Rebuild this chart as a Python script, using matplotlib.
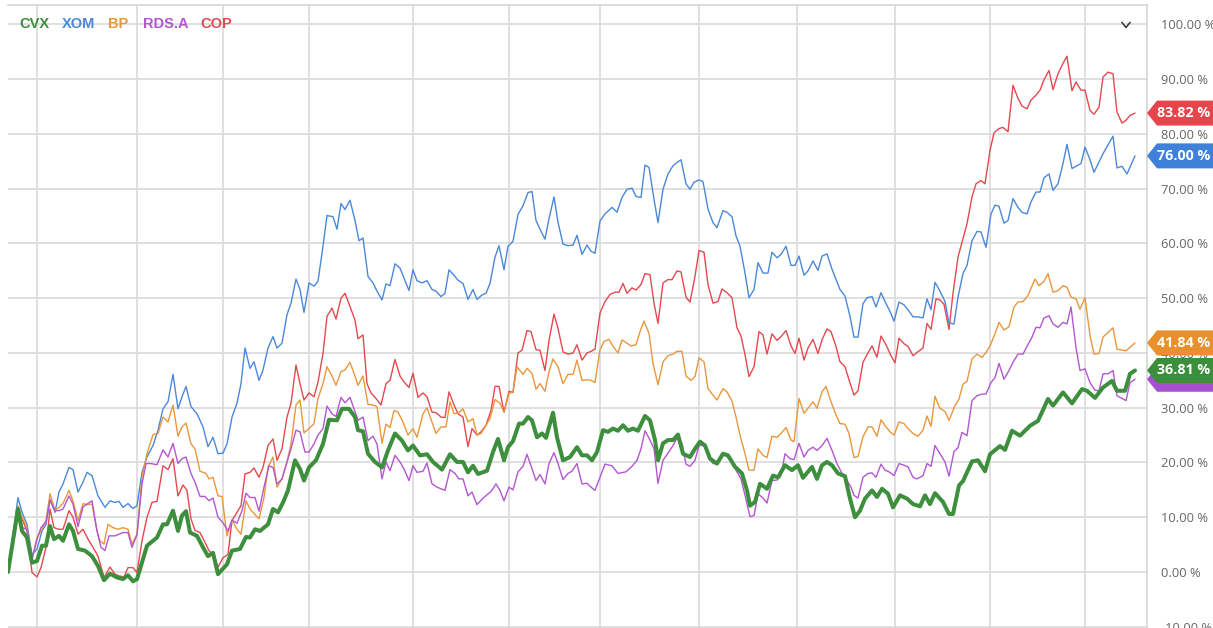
import matplotlib
matplotlib.use("Agg")
import matplotlib.pyplot as plt
from matplotlib.lines import Line2D
from matplotlib.patches import Polygon
import matplotlib.transforms as mtransforms

# ---- data: (trading session, % change) ----
CVX = [(0,0),(2,11.5),(2.8,7.5),(3.8,6.3),(4.8,1.7),(5.8,2),(6.8,4.8),(7.6,4.8),(8.4,8.4),(9.2,6),(10.2,6.6),(11,5.7),(12.2,8.7),(13,7.5),(14,4.2),(15.4,3.9),(16.8,2.9),(18,1.1),(19.2,-1.5),(20.4,-0.3),(21.8,-1),(23,-1.3),(24,-0.6),(25,-1.7),(25.8,-1.3),(27.8,4.8),(29.8,6.3),(31,8.7),(31.8,8.7),(33,11.2),(34,7.5),(34.8,10.3),(35.6,11.1),(36.4,7.2),(37.8,6.6),(39,4.5),(40,2.9),(41,3.5),(42,-0.4),(43.8,1.4),(44.8,3.9),(46.4,4.2),(47.6,6.4),(48.4,6.3),(49.4,7.8),(50.4,7.5),(52,8.7),(53,11.5),(54,10.9),(55,12.7),(56,14.9),(57.4,20.4),(58.4,18.8),(59.2,16.7),(60.2,19.1),(61.6,20.4),(63,23.4),(64.2,27.8),(65.8,27.7),(66.8,29.8),(68.2,29.8),(69.4,28.3),(70,25.9),(71,25.7),(72,21.6),(73.4,20.1),(74.8,19.1),(76,22.2),(77.4,25.3),(78.8,24),(80,22.2),(81,23.1),(82.4,21.3),(83.8,21.5),(85,20.1),(86.8,18.7),(88.4,21.5),(89.8,20.1),(91,20.1),(92,18.2),(93,19.4),(94,17.9),(95.8,18.5),(97,21.9),(98,24.3),(99.2,20.4),(100,22.8),(101,23.9),(102.2,27.1),(103,27.1),(104,28.3),(104.8,27.7),(105.8,24.6),(106.8,25.3),(107.6,24.5),(109,29.1),(109.8,24.6),(111,20.4),(112.4,21),(113.8,22.8),(114.8,21.3),(115.8,21.3),(116.8,20.4),(117.8,21.9),(119,25.9),(120,25.6),(121,26.2),(122,25.8),(123,26.8),(124,25.8),(125,26.2),(126,25.8),(127.4,28.5),(128.4,27.7),(129.4,24.1),(130,20.4),(131,23.5),(132,24.1),(133,24.1),(134,25.1),(135,21.6),(136.4,21),(137.4,22.5),(138.4,23.8),(139.4,23.1),(140.4,20.7),(141.8,19.8),(143,21.6),(144,21.3),(145.4,19.2),(146.8,18),(147.8,14.9),(148.4,12.1),(149.4,12.8),(150.4,16.1),(151.8,15.2),(153,17.6),(154,17.3),(155.4,19.5),(156.8,18.6),(158,19.5),(159,17.2),(160.8,19.2),(161.8,17),(162.8,19.5),(163.8,20.1),(164.8,19.5),(166,18),(167.4,17.5),(168.4,13.4),(169.4,10),(170.4,11.2),(171.4,13.4),(172.8,14.9),(173.8,13.7),(174.8,15.2),(176,14.3),(177,11.8),(178.4,14),(179.8,13.4),(181,12.4),(182.4,12),(183.4,14),(184.4,12.4),(185.4,14.4),(187,12.8),(188.2,10.6),(189,10.6),(190.2,15.8),(191,16.6),(192.8,20.2),(194,20.4),(195.4,18.4),(196.4,21.5),(198.4,23),(199.4,22.3),(200.8,25.8),(202.4,24.9),(204.4,26.7),(206,27.6),(208,31.6),(209,30.4),(211,32.8),(212.8,30.8),(214.8,33.4),(215.8,33.1),(217.4,31.8),(219,33.7),(220.8,34.9),(221.8,33.1),(223.4,33.1),(224.4,36.2),(225.4,36.81)]

XOM = [(0,0),(2,13.6),(2.8,10.9),(3.8,8.7),(4.8,3.2),(5.8,4.2),(6.8,7.5),(7.6,8.7),(8.4,13.3),(9.4,10.9),(10.2,14.6),(11,16.1),(12.2,19.1),(13,18.7),(14,14.6),(15,16.4),(15.8,18.2),(16.8,17.6),(18,13.9),(19.4,11.8),(20.4,13),(21.4,12.7),(22.2,12.9),(23,11.8),(24,12.5),(25,11.6),(25.8,12.1),(26.8,18.2),(27.8,21),(29,23.1),(30,25.9),(31,29.8),(32,31.1),(33,36.1),(34,29.8),(34.8,32),(35.6,33.9),(36.6,30.2),(37.8,28.9),(39,26.5),(40,22.9),(41,24.6),(42,21.6),(43,21.7),(43.8,23.4),(44.8,28.3),(45.8,30.8),(46.6,34.4),(47.4,40.9),(48.4,37.2),(49.2,38.4),(50.2,35),(51,36.9),(52,40.9),(53,43),(53.8,40.9),(54.8,41.8),(55.8,47),(56.6,49.1),(57.6,53.5),(58.4,51.6),(59.2,47.4),(60.2,52.8),(61.2,52.2),(62,53.1),(63,59.5),(63.8,65.1),(65,64.9),(65.8,62.6),(66.6,67.3),(67.4,66.2),(68.4,67.9),(69.4,64.2),(70.2,60.5),(71,61),(72,54),(73,52.8),(73.8,51.3),(74.8,49.7),(75.6,52.6),(76.4,52.3),(77.4,56.3),(78.4,55.5),(79.2,53.7),(80.2,51.4),(81,55.2),(81.8,53.2),(82.8,52.8),(83.8,53.2),(84.8,51.6),(85.6,51.3),(86.6,50.3),(87.4,50.9),(88.2,55.2),(89.2,54.2),(90,53.3),(91,52.7),(92,49.8),(93,51.6),(93.8,49.8),(94.8,50.6),(95.6,50.9),(96.4,52.7),(97.4,57.5),(98.2,59.6),(99.2,55.2),(100,59.5),(101,60.4),(102,65.3),(103,66.9),(104,69.3),(104.8,69.5),(105.6,64.2),(106.4,62.6),(107.4,60.8),(108.2,64.5),(109.2,68.5),(110,63.9),(111,59.9),(112,59.6),(113,59.7),(113.8,61.5),(114.8,58),(115.8,59.7),(116.6,58.6),(117.4,58.2),(118.4,64.1),(119.4,65.4),(120.8,66.6),(121.8,65.7),(122.8,68.4),(123.8,69.9),(124.8,70.1),(125.6,68.6),(126.6,68.4),(127.4,74.3),(128.2,73.9),(129.2,68.1),(130,63.8),(131,69.9),(132,72.7),(133,74.2),(133.8,74.8),(134.6,75.3),(135.6,70.9),(136.4,69.9),(137.2,71.2),(138.2,71.6),(139,71.3),(140,66.3),(141,63.8),(141.8,62.9),(143,66),(143.8,65.7),(144.8,64.9),(145.6,61.4),(146.4,59.5),(147.4,54.6),(148.2,50.1),(149.2,51.6),(150,56.5),(151,54.6),(152,54.6),(152.8,58.4),(153.8,57.4),(154.6,58),(155.6,59.5),(156.6,56),(157.4,56),(158.2,57.7),(159.2,54.2),(160,55),(161,56.8),(162,55.1),(162.8,57.7),(163.8,58.1),(164.8,55.3),(166.4,51.6),(167.4,50.4),(168.4,46.7),(169.2,42.9),(170,42.9),(171,49),(171.8,50.1),(172.8,50.3),(173.6,48.4),(174.6,51),(175.4,49.4),(176.4,47.6),(177.2,45.8),(178.2,49.3),(179.2,48.8),(180,47.9),(181,46.6),(182,46.6),(183,46.4),(183.8,49.9),(184.6,47.9),(185.4,52.9),(186.4,51.3),(187.4,49.4),(188.2,45.5),(189.2,45.3),(190,50.2),(191,54.5),(191.8,56),(192.8,60.5),(193.8,62.2),(194.6,62.1),(195.6,59.3),(196.6,65.4),(197.4,67),(198.2,66.8),(199.2,63.7),(200,64.2),(201,68.2),(202,66.6),(202.8,65.7),(203.8,65.4),(204.6,67.6),(205.6,69.4),(206.4,69.4),(207.2,72),(208.2,72.7),(209,69.7),(210,70.9),(211,74.6),(211.8,78.1),(212.8,73.7),(213.6,74.1),(214.6,74.6),(215.4,77.6),(216.4,75.3),(217.2,73),(219,76.4),(221,79.6),(221.8,73.8),(222.8,74.1),(223.8,72.7),(225.4,76.0)]

BP = [(0,0),(2,12.1),(2.8,10),(3.8,8.1),(4.8,2.3),(5.8,6.3),(6.8,7.8),(7.6,9.4),(8.4,14.3),(9.4,11.3),(10.2,11.8),(11,12.5),(12.2,14.9),(13,13),(14,9.4),(15,12.5),(15.8,12.3),(16.8,12.4),(17.8,7.5),(18.4,5.7),(19.2,5.1),(20,8.7),(21,8.1),(22,7.8),(23,8.1),(24,7.8),(24.8,5.1),(25.8,6.9),(26.8,17.3),(27.8,21.6),(29,25.1),(30,25.3),(31,28.3),(32,27.4),(33,30.5),(34,24.8),(34.8,26.5),(35.6,27.2),(36.6,23.4),(37.4,22.5),(38.4,18.4),(39.6,18),(40.2,17),(41,17.3),(42,13.9),(42.8,13.8),(43.8,6.6),(44.8,9.4),(45.8,7.8),(46.6,6.9),(47.6,13),(48.4,11.5),(49.4,10.5),(50.2,9.7),(51.2,13.6),(52,19.1),(53,21),(53.8,15.5),(54.8,17),(55.8,20.1),(56.6,23.4),(57.6,30.5),(58.4,31.4),(59.2,25.4),(60.2,26.2),(61.2,27.1),(62,31.7),(63,34.4),(63.8,37.5),(64.8,35.8),(65.6,34.1),(66.6,36.6),(67.4,36.9),(68.4,38.3),(69.2,36.3),(70,34.1),(71,35.8),(72,30.6),(73,30.5),(73.8,30.2),(74.8,23.5),(75.6,27),(76.4,26.4),(77.2,29.5),(78,29.2),(79,27.4),(80,25),(81,26.2),(81.8,24.6),(83,28.9),(83.8,30),(84.8,27.4),(85.6,25.3),(86.6,26.5),(87.6,26.5),(88.4,31.1),(89.2,28.9),(90.2,29.1),(91,29.8),(92,27.4),(93,28),(93.8,25),(94.6,25.3),(95.4,26.5),(96.4,28),(97.4,31.5),(98.4,30.8),(99.2,29.2),(100.2,32.6),(101,32.9),(101.8,37.5),(103,36.1),(103.8,37.2),(104.8,36.3),(105.6,33.4),(106.4,34.4),(107.4,33),(108.2,36.6),(109,38.9),(110,37.5),(111,34.4),(112,36.1),(113,36.1),(113.8,38.7),(114.8,35),(115.8,35.1),(116.6,35),(117.4,34.6),(118.4,40.6),(119.2,42.1),(120.2,42.5),(121,41.2),(122,40),(122.8,42.4),(123.8,41.8),(124.6,41.3),(125.6,41.5),(126.4,43.9),(127.2,45.8),(128.2,43.6),(129,38.1),(130,34.2),(131,38.4),(132,39.5),(133,39.8),(133.8,40.3),(134.8,40.3),(135.6,35.8),(136.6,35),(137.4,35.7),(138.2,39.1),(139.2,38.4),(140,33.5),(141,32.3),(141.8,31.4),(143,33.5),(143.8,32.9),(144.8,31.2),(145.6,28.3),(146.4,25),(147.4,21.6),(148.2,18.6),(149.2,18.6),(150,22.5),(151,21.3),(151.8,20.9),(152.8,24.8),(153.8,24.6),(154.6,25.3),(155.6,26.4),(156.6,24.1),(157.2,23.8),(158.2,31.7),(159.2,29),(160,29.9),(161,31.1),(161.8,29.9),(162.8,32.9),(163.6,33.9),(164.6,31.1),(165.6,28.7),(166.4,27.1),(167.4,27),(168.2,25.3),(169.2,20.9),(170,21.1),(171,24.7),(172,26.5),(172.8,26.5),(173.8,24.8),(174.6,27.8),(175.6,26.5),(176.4,25.6),(177.2,25),(178.2,27.4),(179.2,27.1),(180,26.2),(181,25.3),(182,24.8),(183,25.9),(183.8,28.5),(184.6,26.6),(185.4,32.1),(186.4,29.9),(187.4,29.3),(188.2,27.7),(189.4,30.4),(190.2,31.6),(191,34.3),(191.8,34.8),(192.8,38.9),(193.8,39.8),(194.8,39.2),(195.6,40.1),(196.4,41.3),(197.4,43.5),(198.2,45.6),(199.2,44.2),(200.2,44.8),(201.2,48.4),(202,49.3),(203,49.4),(204,50.5),(205.4,53.5),(206.2,52.3),(207.2,53.1),(208,54.5),(209,51.1),(210,51.4),(211,52.3),(211.8,52),(212.6,50.2),(213.6,49.9),(214.4,48),(215.4,50.1),(216.4,43.2),(217.2,39.8),(218.2,39.9),(219,42.9),(221,44.6),(221.8,40.7),(223.6,40.4),(225.4,41.84)]

RDSA = [(0,0),(2,11.8),(2.8,8.1),(3.8,7.8),(4.8,2.3),(5.8,6),(6.6,8.1),(7.6,9.2),(8.4,13.1),(9.4,11.2),(10.2,11.2),(11,11.5),(12.2,13.9),(13,12.4),(14,8.3),(15,11.9),(15.8,12.4),(16.8,13),(17.8,7.5),(18.6,4.5),(19.4,3.9),(20.2,6.6),(21.4,6.6),(22.2,6.9),(23,7.2),(24,7.2),(24.8,4.5),(25.8,6.8),(26.8,16.1),(27.6,19.8),(28.6,19.8),(29.8,19.6),(31,22.3),(32,21),(33,23.5),(34,19.8),(34.8,20.7),(35.6,21),(36.6,18),(37.4,16.4),(38.4,13.8),(39.4,13.8),(40.2,13),(41,13.5),(42,10),(43,9),(44,7.5),(44.8,9.5),(45.8,8.9),(46.8,11.2),(47.6,14.4),(48.4,13.6),(49.4,13.6),(50.2,11.1),(51.2,15.5),(52.2,19.4),(53,19.1),(53.8,16.1),(54.8,17),(55.8,20.1),(56.6,22.5),(57.6,25.9),(58.4,25.6),(59.4,21.9),(60.2,21.9),(61.2,23.4),(62,25),(63,26.2),(63.8,30.3),(64.8,28.9),(65.6,28.4),(66.6,31.9),(67.4,30.9),(68.4,31.9),(69.2,29.8),(70,27.7),(71,28.3),(72,24),(73,24.8),(73.8,23.4),(74.8,17),(75.6,20.1),(76.4,18.5),(77.4,21.3),(78.4,20.1),(79.2,18.8),(80.2,16.7),(81,19.4),(81.8,18.2),(83,18.4),(83.8,19.9),(84.8,16.1),(85.8,15.5),(87.4,14.9),(88.4,18.7),(89.4,18),(90.2,17),(91,17),(92,13.9),(92.8,14.6),(93.8,12.3),(94.8,13.3),(95.8,14.1),(96.6,14.7),(97.6,16.1),(98.4,14.9),(99.2,13),(100.2,15.5),(101,15),(102,18.3),(103,19.3),(103.8,21.5),(104.6,19.4),(105.6,16.7),(106.4,17.8),(107.4,16.1),(108.2,19.8),(109.2,21.8),(110,19.8),(111,16.9),(112,18),(112.8,18.4),(113.8,19.8),(114.8,16.1),(115.8,16.2),(116.6,15.5),(117.4,14.9),(118.4,17.3),(119.4,19.7),(120.8,19.4),(122,18),(123.6,18.3),(124.8,19.3),(125.8,20.4),(126.6,22.5),(127.4,25.8),(128.4,24.1),(129.2,22.5),(130,16.2),(131,20.4),(132,21.7),(133,23.1),(133.8,24.4),(134.8,23.5),(135.6,19.7),(136.4,19.3),(137.4,20.4),(138.2,23.1),(139.2,23.1),(140,21.3),(141,19.8),(141.8,19.8),(143,21.6),(143.8,21.1),(144.8,20.1),(145.6,18.6),(146.6,17),(147.4,14),(148.4,10.1),(149.2,10.3),(150,14.3),(151,13.5),(151.8,12.6),(152.8,16.7),(153.8,16.8),(154.6,17.6),(155.4,21.6),(156.4,20.7),(157.2,20.5),(158.2,23.5),(159.2,21),(160,22.2),(161,22.8),(161.8,22.2),(162.8,23.1),(163.8,24.4),(164.8,22.2),(165.8,19.8),(166.8,18),(167.8,16.7),(168.6,15.5),(169.2,14),(170,13.5),(171,17.3),(172,18),(172.8,18.1),(173.6,17.3),(174.6,19.7),(175.4,18.6),(176.2,18.3),(177.2,17.6),(178.2,19.8),(179.2,19.5),(180,19.2),(181,17.3),(181.8,17),(183,17.6),(183.8,19.8),(184.6,19.3),(185.4,23.1),(186.4,21.6),(187.4,20.1),(188.2,17.5),(189.2,22),(190,22.7),(190.8,25.5),(191.8,24.9),(192.8,31.3),(193.8,32.2),(194.8,32.5),(195.6,32.5),(196.6,34.6),(197.4,35.5),(198.2,38.1),(199.2,35.2),(200.2,36.8),(201,38.3),(202,39.8),(203,39.8),(203.8,41.2),(204.8,42.9),(205.6,44.7),(206.4,44.6),(207.2,46.4),(208.2,46.8),(209,45.3),(210,44.7),(211,45.6),(211.8,45.3),(212.6,48.4),(213.6,41),(214.4,36.8),(215.4,37.1),(216.4,34.6),(217.4,33.2),(218.2,33.1),(219,36.2),(220,36.2),(221,36.8),(221.8,32.2),(223.6,31.3),(224.4,34.6),(225.4,35.2)]

COP = [(0,0),(2,11.9),(2.8,9.7),(3.8,7.5),(4.8,-0.1),(5.8,-0.9),(6.6,0.8),(7.6,4.5),(8.4,11.5),(9.2,8.1),(10.2,7.8),(11,7.8),(12.2,11.2),(13,10),(14,6.9),(15,7.8),(16,6),(17,4.5),(18,2.9),(19.2,-1),(20.4,0.9),(21.4,-0.4),(22.2,-0.7),(23.2,-0.9),(24,0.8),(25,0.8),(25.8,-0.1),(26.8,5.7),(27.8,10),(28.8,12.7),(29.8,12.9),(31,19.4),(32,18.7),(33,20.7),(34,13.9),(35,15.9),(35.8,14.9),(36.6,9.7),(37.4,7.6),(38.4,7.2),(39.4,5.4),(40.2,3.9),(41.2,2.9),(42,0.9),(43,2.6),(44,3.2),(44.8,9.4),(45.8,10.9),(46.6,12.1),(47.4,17.9),(48.4,18.2),(49.2,19),(50.2,17.3),(51,19.1),(52,23.1),(53,24.3),(53.8,20.4),(54.8,22.5),(55.8,28.3),(56.6,30.8),(57.6,37.8),(58.4,34.4),(59.2,31.4),(60.2,32.7),(61.2,32),(62,34.7),(63,39.9),(63.8,46.7),(64.8,48.2),(65.6,46.2),(66.6,50),(67.4,50.9),(68.4,48.5),(69.4,46),(70,42.6),(71,43.3),(71.8,34.4),(72.6,32.7),(73.6,31.7),(74.6,30.5),(75.6,34.4),(76.4,35),(77.4,38.8),(78.4,35.8),(79.2,34.7),(80.2,33.7),(81,36.3),(82,31.9),(83,32.7),(83.8,32),(84.8,29.2),(85.6,29.1),(86.6,28.3),(87.4,28.2),(88.2,32.9),(89.2,30.5),(90,28.9),(91,28.3),(92,22.9),(92.8,26.2),(93.8,25),(94.6,25.6),(95.6,26.8),(96.6,29.5),(97.4,33.9),(98.2,33.9),(99.2,29.2),(100.2,33),(101,32.8),(102,40),(102.8,40.5),(103.8,44.1),(104.6,43.9),(105.6,40.6),(106.4,40.5),(107.4,36.8),(108.2,42.3),(109.2,47.1),(110,44.5),(111,40.2),(112,39.8),(113,40),(113.8,41.5),(114.8,38.7),(115.8,40),(116.6,40.3),(117.4,40.7),(118.4,47.3),(119.4,49.4),(120.4,50.7),(121.4,51.1),(122.2,51.1),(123,52.7),(123.8,50.9),(124.8,51.9),(125.6,51.5),(126.6,52.5),(127.4,54.5),(128.4,54.3),(129.2,49.1),(130,45.4),(131,52.8),(132,53.4),(132.8,53.4),(133.8,55),(134.6,54.8),(135.6,50.2),(136.4,49.3),(137.4,54),(138.2,58.7),(139.2,58.4),(140,52.5),(141,49.1),(142,49.4),(142.8,51.7),(143.8,51),(144.8,50.1),(145.8,44.6),(146.6,43.1),(147.4,39.7),(148.2,35.7),(149.2,37.5),(150.2,43.9),(151,43.3),(151.8,39.8),(152.8,43.5),(153.8,42.3),(154.6,43),(155.6,44.1),(156.6,41.3),(157.4,39.9),(158.2,42.7),(159.2,38.7),(160,40.9),(161,42.5),(162,39.9),(162.8,42.4),(163.8,44.4),(164.6,43.9),(165.6,41.2),(166.4,38.4),(167.4,37.5),(168.2,35.1),(169.2,32.3),(170,33.1),(171,38.3),(171.8,39.7),(172.8,41.3),(173.8,39.2),(174.6,43.1),(175.6,41.5),(176.6,39.5),(177.4,38.2),(178.2,42.7),(179.2,41.7),(180,41.2),(181,39.5),(181.8,40.1),(183,40.9),(183.8,45.4),(184.6,44.3),(185.6,49.9),(186.4,49.7),(187.2,48.9),(188.2,44.3),(189,50.9),(190,57.5),(190.8,60.2),(191.8,63.6),(192.8,68.5),(193.6,70.9),(194.6,71.5),(195.4,70.9),(196.4,77),(197.2,80.2),(198.2,81),(199,81.2),(200,80.4),(201,88.9),(202,86.5),(202.8,85.1),(203.8,84.6),(204.6,86.2),(205.6,87.1),(206.4,88),(207.2,89.9),(208.2,91.6),(209,88.1),(210,91),(211,92.9),(211.8,94.2),(212.8,87.9),(213.6,89.5),(214.6,88),(215.4,88),(216.4,84.3),(217.2,83.6),(218.2,84.9),(219,90.4),(220,91.3),(221,91),(221.8,84),(222.8,82),(223.6,82.5),(224.4,83.4),(225.4,83.82)]

TICKERS = ["CVX", "XOM", "BP", "RDS.A", "COP"]
SERIES = {"CVX": CVX, "XOM": XOM, "BP": BP, "RDS.A": RDSA, "COP": COP}
COLORS = {"CVX": "#3d8f3d", "XOM": "#4a88db", "BP": "#e9973d", "RDS.A": "#b356d2", "COP": "#e5484f"}
TAG_COLORS = {"CVX": "#3b8f3b", "XOM": "#3f80d8", "BP": "#e88f2e", "RDS.A": "#a64fd0", "COP": "#e5464c"}
MONTH_STARTS = [5.8, 25.8, 43, 60.2, 81, 100.2, 118.4, 138.2, 157.8, 177.4, 196.4, 215.4]
Y_TICKS = list(range(-10, 101, 10))

W, H = 1213, 628
fig = plt.figure(figsize=(W / 100, H / 100), dpi=100)
ax = fig.add_axes([8 / W, 0, (1147 - 8) / W, (H - 5) / H])
ax.set_xlim(0, 227.8)
ax.set_ylim(-10.23, 103.56)

grid_c = "#dadada"
for y in Y_TICKS:
    ax.axhline(y, color=grid_c, lw=1.2, zorder=0)
for x in MONTH_STARTS:
    ax.axvline(x, color=grid_c, lw=1.2, zorder=0)

for s in ["left", "bottom"]:
    ax.spines[s].set_visible(False)
ax.spines["top"].set_color("#d6d6d6")
ax.spines["top"].set_linewidth(1.2)
ax.spines["right"].set_color("#d6d6d6")
ax.spines["right"].set_linewidth(1.2)

ax.set_xticks(MONTH_STARTS)
ax.set_xticklabels([])
ax.tick_params(axis="x", length=0)
ax.yaxis.tick_right()
ax.set_yticks(Y_TICKS)
ax.set_yticklabels([f"{v:.2f} %" for v in Y_TICKS], fontfamily="Open Sans")
ax.tick_params(axis="y", length=0, pad=10, labelsize=9.3, labelcolor="#666666")

draw_order = ["COP", "XOM", "BP", "RDS.A", "CVX"]
for t in draw_order:
    data = SERIES[t]
    xs = [p[0] for p in data]
    ys = [p[1] for p in data]
    lw = 2.9 if t == "CVX" else 1.0
    ax.plot(xs, ys, color=COLORS[t], lw=lw, solid_joinstyle="round",
            solid_capstyle="round", zorder=5 if t == "CVX" else 3)

# value tags at the right edge
trans = mtransforms.blended_transform_factory(fig.transFigure, ax.transData)
half = 12.5 / 5.475
tag_order = ["RDS.A", "CVX", "BP", "XOM", "COP"]
for t in tag_order:
    last = SERIES[t][-1][1]
    x0, x1, x2 = 1147 / W, 1157 / W, 1.0
    poly = Polygon([(x0, last), (x1, last + half), (x2, last + half),
                    (x2, last - half), (x1, last - half)], closed=True,
                   transform=trans, facecolor=TAG_COLORS[t], edgecolor="none",
                   clip_on=False, zorder=10)
    fig.add_artist(poly)
    if t != "RDS.A":
        fig.text(1184 / W, last, f"{last:.2f} %", transform=trans, ha="center",
                 va="center", color="white", fontsize=10.3, fontweight="bold",
                 fontfamily="Open Sans", zorder=11)

# legend
legend_x = {"CVX": 19, "XOM": 62, "BP": 108, "RDS.A": 143, "COP": 200}
for t in TICKERS:
    fig.text(legend_x[t] / W, 1 - 24 / H, t, color=COLORS[t], fontsize=10.5,
             fontweight="bold", fontfamily="Liberation Sans", ha="left", va="center")

# menu chevron
fig.add_artist(Line2D([1122 / W, 1126 / W, 1130 / W],
                      [1 - 22.5 / H, 1 - 27.5 / H, 1 - 22.5 / H],
                      transform=fig.transFigure, color="#333333", lw=1.1))

fig.savefig("out.png", dpi=100)
